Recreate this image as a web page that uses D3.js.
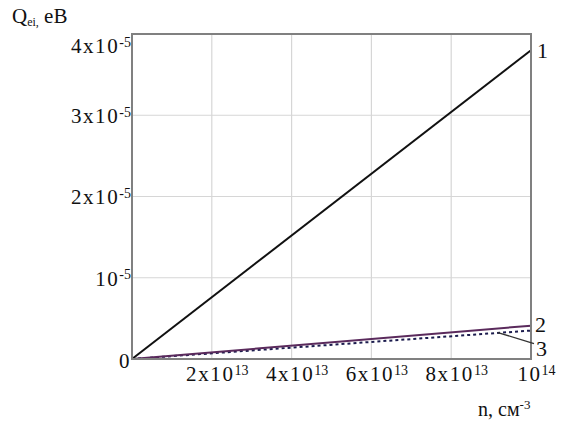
<html lang="en">
<head>
</head>
<body style="margin:0;background:#fff">
<script type='text/javascript' src='https://d3js.org/d3.v7.min.js'></script>
<script>
// data
const nValues = [0, 1e14];
const q1 = [0, 3.8e-5];
const q2 = [0, 4.1e-6];
const q3 = [0, 3.5e-6];
const curveNames = ["1", "2", "3"];

const xTicks = [2e13, 4e13, 6e13, 8e13, 1e14];
const xTickLabels = [["2x10", "13"], ["4x10", "13"], ["6x10", "13"], ["8x10", "13"], ["10", "14"]];
const yTicks = [0, 1e-5, 2e-5, 3e-5, 4e-5];
const yTickLabels = [["0", ""], ["10", "-5"], ["2x10", "-5"], ["3x10", "-5"], ["4x10", "-5"]];

const FONT = "Liberation Serif";
const margin = {top: 34, right: 35, bottom: 66, left: 132};
const W = 566, H = 425;
const width = W - margin.left - margin.right;
const height = H - margin.top - margin.bottom;

var svg = d3.select("body").append("svg")
  .attr("width", W).attr("height", H)
  .attr("font-family", FONT);
var g = svg.append("g")
  .attr("transform", "translate(" + margin.left + "," + margin.top + ")");

var x = d3.scaleLinear().domain([0, 1e14]).range([0, width]);
var y = d3.scaleLinear().domain([0, 4e-5]).range([height, 0]);

// grid
g.append("g").selectAll("line").data(xTicks.slice(0, -1)).enter().append("line")
  .attr("x1", d => x(d)).attr("x2", d => x(d))
  .attr("y1", 0).attr("y2", height)
  .attr("stroke", "#d6d6d6").attr("stroke-width", 1.2);
g.append("g").selectAll("line").data(yTicks.slice(1, -1)).enter().append("line")
  .attr("x1", 0).attr("x2", width)
  .attr("y1", d => y(d)).attr("y2", d => y(d))
  .attr("stroke", "#d6d6d6").attr("stroke-width", 1.2);

// axes (labels drawn as base + superscript)
function supLabel(sel, labels, sizeBase, sizeSup) {
  sel.attr("font-family", FONT).attr("font-size", sizeBase);
  sel.selectAll(".tick text").each(function(d, i) {
    var t = d3.select(this).text(null)
      .attr("font-family", FONT)
      .attr("font-size", sizeBase);
    t.append("tspan").attr("letter-spacing", 1.6).text(labels[i][0]);
    if (labels[i][1]) {
      t.append("tspan").attr("dy", "-0.45em").attr("font-size", sizeSup).text(labels[i][1]);
    }
  });
}

var xa = g.append("g")
  .attr("transform", "translate(0," + height + ")")
  .call(d3.axisBottom(x).tickValues(xTicks).tickSize(0).tickPadding(7).tickFormat(""));
xa.select(".domain").remove();
supLabel(xa, xTickLabels, 21, 14);
xa.selectAll(".tick text").attr("dx", 5).attr("fill", "#111");

var ya = g.append("g")
  .call(d3.axisLeft(y).tickValues(yTicks).tickSize(0).tickPadding(1).tickFormat(""));
ya.select(".domain").remove();
supLabel(ya, yTickLabels, 21, 14);
ya.selectAll(".tick text").attr("fill", "#111")
  .attr("dy", (d, i) => i === yTicks.length - 1 ? "0.9em" : (i === 0 ? "0.4em" : "0.35em"));

// curves
var line = d3.line().x(d => x(d[0])).y(d => y(d[1]));
var series = [q1, q2, q3].map(s => nValues.map((n, i) => [n, s[i]]));

g.append("path").datum(series[2]).attr("d", line)
  .attr("fill", "none").attr("stroke", "#1c1c4e").attr("stroke-width", 2)
  .attr("stroke-dasharray", "3,3");
g.append("path").datum(series[1]).attr("d", line)
  .attr("fill", "none").attr("stroke", "#5a2a5c").attr("stroke-width", 2);
g.append("path").datum(series[0]).attr("d", line)
  .attr("fill", "none").attr("stroke", "#111").attr("stroke-width", 2);

// frame
g.append("rect").attr("x", 0).attr("y", 0).attr("width", width).attr("height", height)
  .attr("fill", "none").attr("stroke", "#808080").attr("stroke-width", 2);

// curve numbers
var last = nValues.length - 1;
function label(tx, ty, s) {
  return g.append("text").attr("x", tx).attr("y", ty)
    .attr("font-family", FONT).attr("font-size", 22).attr("fill", "#111").text(s);
}
label(width + 6, y(q1[last]) + 8, curveNames[0]);
label(width + 4, y(q2[last]) + 6, curveNames[1]);
label(width + 5, y(q3[last]) + 25, curveNames[2]);
// leader to curve 3
g.append("line")
  .attr("x1", x(0.917e14)).attr("y1", y(q3[last] * 0.93))
  .attr("x2", width + 3).attr("y2", y(q3[last]) + 13)
  .attr("stroke", "#333").attr("stroke-width", 1.3);

// axis titles
var yt = svg.append("text").attr("x", 12).attr("y", 23)
  .attr("font-family", FONT).attr("font-size", 21).attr("fill", "#111");
yt.append("tspan").text("Q");
yt.append("tspan").attr("dy", 3).attr("font-size", 12).text("ei,");
yt.append("tspan").attr("dy", -3).text(" eB");

var xt = svg.append("text").attr("x", 478).attr("y", 416)
  .attr("font-family", FONT).attr("font-size", 20).attr("fill", "#111");
xt.append("tspan").text("n, см");
xt.append("tspan").attr("dy", -7).attr("font-size", 13).text("-3");
</script>
</body>
</html>
